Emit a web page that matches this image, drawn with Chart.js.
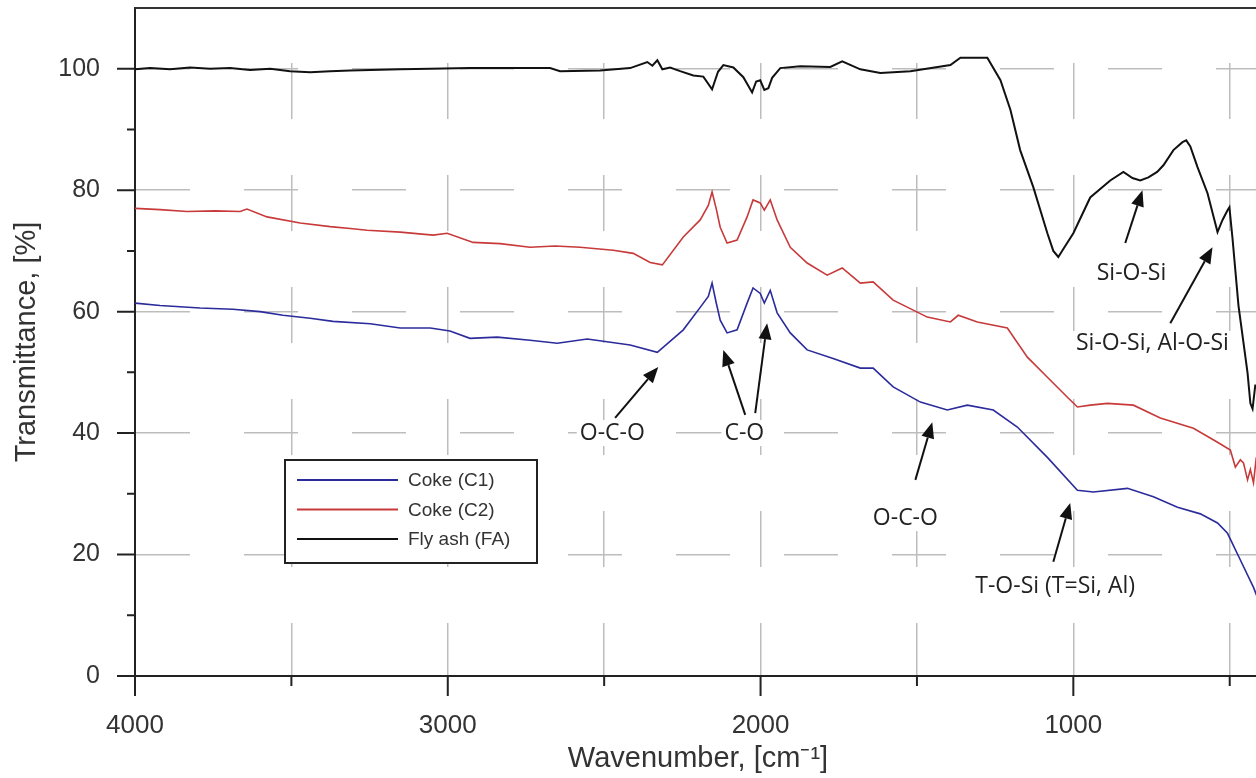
<!DOCTYPE html>
<html>
<head>
<meta charset="utf-8">
<script src="https://cdn.jsdelivr.net/npm/chart.js@4.4.0/dist/chart.umd.min.js"></script>
<style>
  html, body { margin: 0; padding: 0; background: #fff; overflow: hidden; }
  #contenedor { width: 1261px; height: 778px; }
</style>
</head>
<body>
<div id="contenedor"><canvas id="grafico" width="1261" height="778"></canvas></div>
<script>
// Ejes
var xMajorTicks = [4000, 3000, 2000, 1000];
var xMinorTicks = [3500, 2500, 1500, 500];
var yMajorTicks = [0, 20, 40, 60, 80, 100];
var yMinorTicks = [10, 30, 50, 70, 90];

// Fly ash (FA)
var faWave = [4000, 3952, 3888, 3824, 3760, 3696, 3632, 3568, 3504, 3440, 3376, 3312, 3248, 3152, 3056, 2929, 2769, 2673, 2641, 2513,
  2417, 2362, 2346, 2330, 2314, 2289, 2257, 2215, 2183, 2155, 2136, 2119, 2087, 2055, 2027, 2014, 2001, 1988, 1975, 1963,
  1937, 1873, 1777, 1739, 1681, 1617, 1521, 1393, 1361, 1275, 1233, 1201, 1170, 1128, 1083, 1064, 1048, 1032, 1000, 946,
  882, 840, 811, 786, 760, 732, 712, 680, 651, 639, 626, 603, 571, 539, 523, 507, 501, 491, 472, 443, 434, 427, 418];
var faT = [99.9, 100.1, 99.9, 100.2, 100.0, 100.1, 99.8, 100.0, 99.6, 99.4, 99.6, 99.7, 99.8, 99.9, 100.0, 100.1, 100.1, 100.1, 99.6, 99.7,
  100.1, 101.1, 100.5, 101.4, 99.9, 100.2, 99.6, 98.9, 98.7, 96.6, 99.5, 100.6, 100.2, 98.6, 96.1, 97.9, 98.1, 96.5, 96.8, 98.5,
  100.1, 100.4, 100.3, 101.2, 99.9, 99.3, 99.6, 100.6, 101.8, 101.8, 98.1, 93.2, 86.6, 80.5, 72.9, 70.0, 69.0, 70.3, 72.9, 78.8,
  81.6, 83.0, 82.0, 81.6, 82.1, 83.0, 84.1, 86.6, 87.9, 88.2, 87.2, 83.8, 79.5, 73.1, 75.1, 76.7, 77.2, 72.0, 61.0, 49.9, 44.9, 44.0, 48.0];

// Coke (C2)
var c2Wave = [4000, 3920, 3834, 3744, 3664, 3642, 3578, 3472, 3376, 3312, 3258, 3152, 3047, 3002, 2919, 2833, 2737, 2657, 2577, 2471,
  2407, 2353, 2314, 2247, 2193, 2167, 2155, 2142, 2129, 2107, 2075, 2043, 2024, 2001, 1988, 1969, 1947, 1905, 1851, 1787,
  1739, 1681, 1640, 1576, 1467, 1393, 1368, 1307, 1211, 1147, 1083, 1019, 987, 946, 891, 808, 722, 616, 539, 498,
  482, 466, 456, 443, 434, 424, 415];
var c2T = [77.0, 76.8, 76.5, 76.6, 76.5, 76.9, 75.6, 74.6, 74.0, 73.7, 73.4, 73.1, 72.6, 72.9, 71.4, 71.2, 70.6, 70.8, 70.6, 70.1,
  69.6, 68.1, 67.7, 72.3, 75.1, 77.5, 79.7, 77.0, 73.9, 71.3, 71.8, 75.6, 78.4, 77.9, 76.7, 78.4, 75.1, 70.6, 68.0, 66.0,
  67.2, 64.7, 64.9, 61.9, 59.1, 58.3, 59.4, 58.3, 57.3, 52.5, 49.2, 45.9, 44.3, 44.6, 44.9, 44.6, 42.5, 40.8, 38.5, 37.2,
  34.4, 35.6, 35.1, 32.3, 34.0, 31.8, 36.0];

// Coke (C1)
var c1Wave = [4000, 3920, 3792, 3687, 3600, 3527, 3440, 3367, 3248, 3152, 3056, 2993, 2929, 2842, 2737, 2650, 2554, 2417, 2330, 2247,
  2193, 2167, 2155, 2142, 2129, 2107, 2075, 2043, 2024, 2001, 1988, 1969, 1947, 1905, 1851, 1768, 1681, 1640, 1576, 1489,
  1403, 1339, 1256, 1179, 1083, 987, 936, 827, 744, 667, 594, 539, 507, 466, 424, 408];
var c1T = [61.4, 61.0, 60.6, 60.4, 60.0, 59.4, 58.9, 58.4, 58.0, 57.3, 57.3, 56.8, 55.6, 55.8, 55.3, 54.8, 55.5, 54.5, 53.3, 57.0,
  60.7, 62.5, 64.7, 61.5, 58.6, 56.5, 57.0, 61.4, 63.9, 63.0, 61.4, 63.5, 59.8, 56.5, 53.7, 52.3, 50.7, 50.7, 47.6, 45.1,
  43.8, 44.6, 43.8, 41.0, 36.0, 30.6, 30.3, 30.9, 29.5, 27.8, 26.7, 25.2, 23.5, 19.1, 14.6, 12.5];

// Anotaciones (en coordenadas de datos)
var etiquetas = ['O-C-O', 'C-O', 'O-C-O', 'T-O-Si (T=Si, Al)', 'Si-O-Si', 'Si-O-Si, Al-O-Si'];
var etiquetaEn = [[2474, 40.0], [2052, 40.0], [1537, 26.0], [1058, 14.7], [814, 66.3], [747, 54.7]];
var flechaDesde = [[2465, 42.5], [2049, 43.0], [2017, 43.3], [1505, 32.3], [1064, 18.8], [834, 71.3], [690, 58.1]];
var flechaHasta = [[2327, 50.9], [2119, 53.7], [1979, 58.1], [1451, 41.8], [1010, 28.5], [779, 80.0], [555, 70.6]];

var fuenteEje = "'Liberation Sans', Arial, sans-serif";

function pares(xs, ys) {
    var out = [];
    for (var i = 0; i < xs.length; i++) out.push({ x: xs[i], y: ys[i] });
    return out;
}

// Marco superior y marcas de los ejes
var marcoPlugin = {
    id: 'marco',
    afterDatasetsDraw: function (chart) {
        var c = chart.ctx, a = chart.chartArea, sx = chart.scales.x, sy = chart.scales.y;
        c.save();
        c.strokeStyle = '#333';
        c.lineWidth = 2;
        c.beginPath();
        c.moveTo(a.left, a.top); c.lineTo(a.right, a.top);
        c.stroke();
        c.strokeStyle = '#222';
        c.beginPath();
        xMajorTicks.forEach(function (v) { var p = sx.getPixelForValue(v); c.moveTo(p, a.bottom); c.lineTo(p, a.bottom + 20); });
        xMinorTicks.forEach(function (v) { var p = sx.getPixelForValue(v); c.moveTo(p, a.bottom); c.lineTo(p, a.bottom + 10); });
        yMajorTicks.forEach(function (v) { var p = sy.getPixelForValue(v); c.moveTo(a.left, p); c.lineTo(a.left - 18, p); });
        yMinorTicks.forEach(function (v) { var p = sy.getPixelForValue(v); c.moveTo(a.left, p); c.lineTo(a.left - 8, p); });
        c.stroke();
        c.restore();
    }
};

// Leyenda dentro del gráfico
var leyendaPlugin = {
    id: 'leyenda',
    afterDatasetsDraw: function (chart) {
        var c = chart.ctx;
        var x0 = 285, y0 = 460, w = 252, h = 103;
        c.save();
        c.fillStyle = '#fff';
        c.fillRect(x0, y0, w, h);
        c.strokeStyle = '#222';
        c.lineWidth = 2;
        c.strokeRect(x0, y0, w, h);
        c.font = '19px ' + fuenteEje;
        c.textBaseline = 'middle';
        chart.data.datasets.forEach(function (ds, i) {
            var y = y0 + 20 + i * 29.5;
            c.strokeStyle = ds.borderColor;
            c.lineWidth = 2;
            c.beginPath(); c.moveTo(x0 + 12, y); c.lineTo(x0 + 113, y); c.stroke();
            c.fillStyle = '#333';
            c.fillText(ds.label, x0 + 123, y + 1);
        });
        c.restore();
    }
};

// Textos y flechas
var anotacionesPlugin = {
    id: 'anotaciones',
    afterDatasetsDraw: function (chart) {
        var c = chart.ctx, sx = chart.scales.x, sy = chart.scales.y;
        c.save();
        c.font = "23px 'Open Sans', sans-serif";
        c.textAlign = 'center';
        c.textBaseline = 'middle';
        etiquetas.forEach(function (t, i) {
            var px = sx.getPixelForValue(etiquetaEn[i][0]), py = sy.getPixelForValue(etiquetaEn[i][1]);
            var w = c.measureText(t).width;
            c.fillStyle = '#fff';
            c.fillRect(px - w / 2 - 3, py - 13, w + 6, 26);
            c.fillStyle = '#222';
            c.fillText(t, px, py);
        });
        c.strokeStyle = '#111';
        c.fillStyle = '#111';
        c.lineWidth = 2;
        flechaDesde.forEach(function (d, i) {
            var x1 = sx.getPixelForValue(d[0]), y1 = sy.getPixelForValue(d[1]);
            var x2 = sx.getPixelForValue(flechaHasta[i][0]), y2 = sy.getPixelForValue(flechaHasta[i][1]);
            var ang = Math.atan2(y2 - y1, x2 - x1), largo = 16, ancho = 6.5;
            var bx = x2 - largo * Math.cos(ang), by = y2 - largo * Math.sin(ang);
            c.beginPath(); c.moveTo(x1, y1); c.lineTo(bx, by); c.stroke();
            c.beginPath();
            c.moveTo(x2, y2);
            c.lineTo(bx + ancho * Math.sin(ang), by - ancho * Math.cos(ang));
            c.lineTo(bx - ancho * Math.sin(ang), by + ancho * Math.cos(ang));
            c.closePath();
            c.fill();
        });
        c.restore();
    }
};

var ctx = document.getElementById('grafico').getContext('2d');
new Chart(ctx, {
    type: 'line',
    data: {
        datasets: [{
            label: 'Coke (C1)',
            data: pares(c1Wave, c1T),
            borderColor: '#2b2b9c',
            borderWidth: 1.6,
            pointRadius: 0,
            fill: false
        }, {
            label: 'Coke (C2)',
            data: pares(c2Wave, c2T),
            borderColor: '#c83a3a',
            borderWidth: 1.6,
            pointRadius: 0,
            fill: false
        }, {
            label: 'Fly ash (FA)',
            data: pares(faWave, faT),
            borderColor: '#111111',
            borderWidth: 2,
            pointRadius: 0,
            fill: false
        }]
    },
    options: {
        responsive: false,
        animation: false,
        layout: { padding: { top: 8, left: 0, right: 0, bottom: 0 } },
        plugins: { legend: { display: false }, tooltip: { enabled: false } },
        scales: {
            x: {
                type: 'linear',
                reverse: true,
                min: 400,
                max: 4000,
                afterFit: function (s) { s.height = 102; s.paddingLeft = 0; s.paddingRight = 0; },
                afterBuildTicks: function (s) {
                    s.ticks = xMajorTicks.concat(xMinorTicks).sort(function (a, b) { return b - a; }).map(function (v) { return { value: v }; });
                },
                grid: {
                    drawTicks: false,
                    lineWidth: 1.5,
                    color: function (c) { return c.tick && c.tick.value === 4000 ? 'rgba(0,0,0,0)' : '#bdbdbd'; }
                },
                border: { display: true, color: '#222', width: 2, dash: [56, 56], dashOffset: 57 },
                ticks: {
                    autoSkip: false,
                    maxRotation: 0,
                    padding: 34,
                    color: '#333',
                    font: { family: fuenteEje, size: 26 },
                    callback: function (v) { return xMajorTicks.indexOf(v) >= 0 ? v : ''; }
                },
                title: {
                    display: true,
                    text: 'Wavenumber, [cm⁻¹]',
                    color: '#333',
                    font: { family: fuenteEje, size: 29 },
                    padding: { top: 0, bottom: 2 }
                }
            },
            y: {
                min: 0,
                max: 110,
                afterFit: function (s) { s.width = 135; s.paddingTop = 0; s.paddingBottom = 0; },
                afterBuildTicks: function (s) {
                    s.ticks = yMajorTicks.concat(yMinorTicks).sort(function (a, b) { return a - b; }).map(function (v) { return { value: v }; });
                },
                grid: {
                    drawTicks: false,
                    lineWidth: 1.5,
                    color: function (c) {
                        if (!c.tick || c.tick.value === 0 || c.tick.value % 20 !== 0) return 'rgba(0,0,0,0)';
                        return '#bdbdbd';
                    }
                },
                border: { display: true, color: '#222', width: 2, dash: [54, 54], dashOffset: 0 },
                ticks: {
                    autoSkip: false,
                    padding: 35,
                    color: '#333',
                    font: { family: fuenteEje, size: 25 },
                    callback: function (v) { return yMajorTicks.indexOf(v) >= 0 ? v : ''; }
                },
                title: {
                    display: true,
                    text: 'Transmittance, [%]',
                    color: '#333',
                    font: { family: fuenteEje, size: 29 },
                    padding: { top: 10, bottom: 0 }
                }
            }
        }
    },
    plugins: [marcoPlugin, leyendaPlugin, anotacionesPlugin]
});
</script>
</body>
</html>
